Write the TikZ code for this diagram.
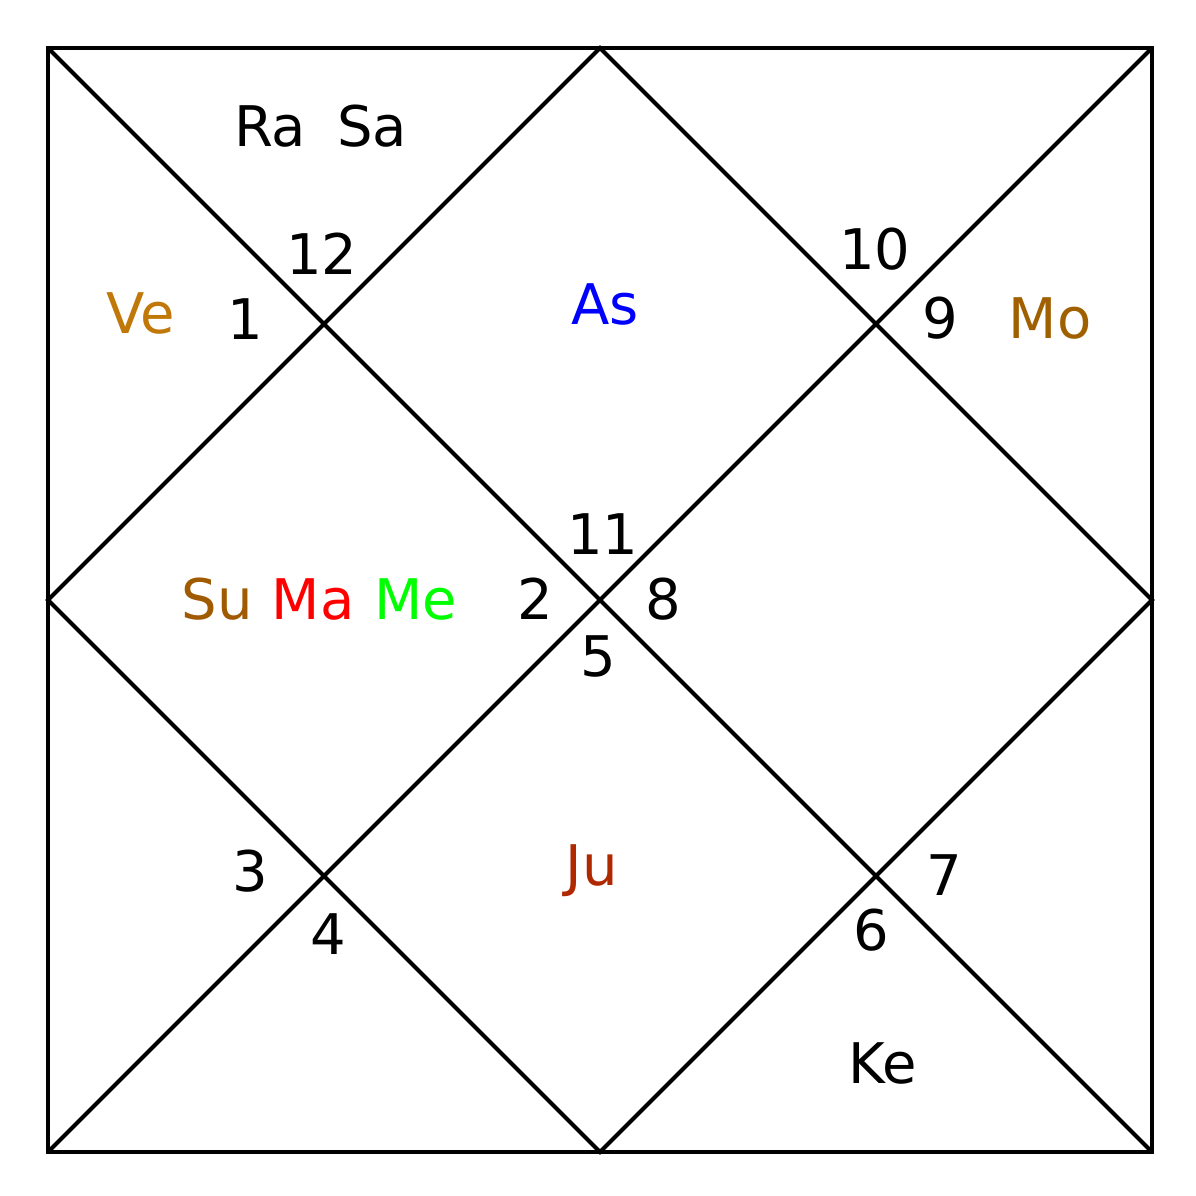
\documentclass[tikz,border=0pt]{standalone}
\usepackage{fontspec}
\setmainfont{DejaVu Sans}
\definecolor{cVe}{HTML}{C07808}
\definecolor{cMo}{HTML}{A06000}
\definecolor{cSu}{HTML}{A05A00}
\definecolor{cJu}{HTML}{B02800}
\begin{document}
\begin{tikzpicture}[x=0.5pt,y=-0.5pt,
  lbl/.style={anchor=base,inner sep=0pt,font=\fontsize{28}{30}\selectfont},
  ln/.style={line width=2pt,line join=miter}]
\useasboundingbox[fill=white] (0,0) rectangle (1196,1196);
\coordinate (tl) at (48,48);
\coordinate (tr) at (1152,48);
\coordinate (br) at (1152,1152);
\coordinate (bl) at (48,1152);
\coordinate (mt) at (600,48);
\coordinate (mr) at (1152,600);
\coordinate (mb) at (600,1152);
\coordinate (ml) at (48,600);
\draw[ln] (tl) -- (br);
\draw[ln] (tr) -- (bl);
\draw[ln] (mt) -- (mr) -- (mb) -- (ml) -- cycle;
\draw[ln] (tl) -- (tr) -- (br) -- (bl) -- cycle;
\node[lbl] (ra) at (270,146) {Ra};
\node[lbl] (sa) at (372,146) {Sa};
\node[lbl] (h12) at (322,274) {12};
\node[lbl] (h1) at (245,339) {1};
\node[lbl,text=cVe] (ve) at (141,333) {Ve};
\node[lbl,text=blue] (as) at (605,324) {As};
\node[lbl] (h10) at (875,269) {10};
\node[lbl] (h9) at (940,338) {9};
\node[lbl,text=cMo] (mo) at (1050,338) {Mo};
\node[lbl] (h11) at (603,554) {11};
\node[lbl] (h2) at (535,619) {2};
\node[lbl] (h8) at (663,619) {8};
\node[lbl] (h5) at (598,676) {5};
\node[lbl,text=cSu] (su) at (217,619) {Su};
\node[lbl,text=red] (ma) at (313,619) {Ma};
\node[lbl,text=green] (me) at (416,619) {Me};
\node[lbl] (h3) at (250,891) {3};
\node[lbl] (h4) at (328,954) {4};
\node[lbl,text=cJu] (ju) at (592,885) {Ju};
\node[lbl] (h7) at (944,895) {7};
\node[lbl] (h6) at (871,950) {6};
\node[lbl] (ke) at (883,1083) {Ke};
\end{tikzpicture}
\end{document}
